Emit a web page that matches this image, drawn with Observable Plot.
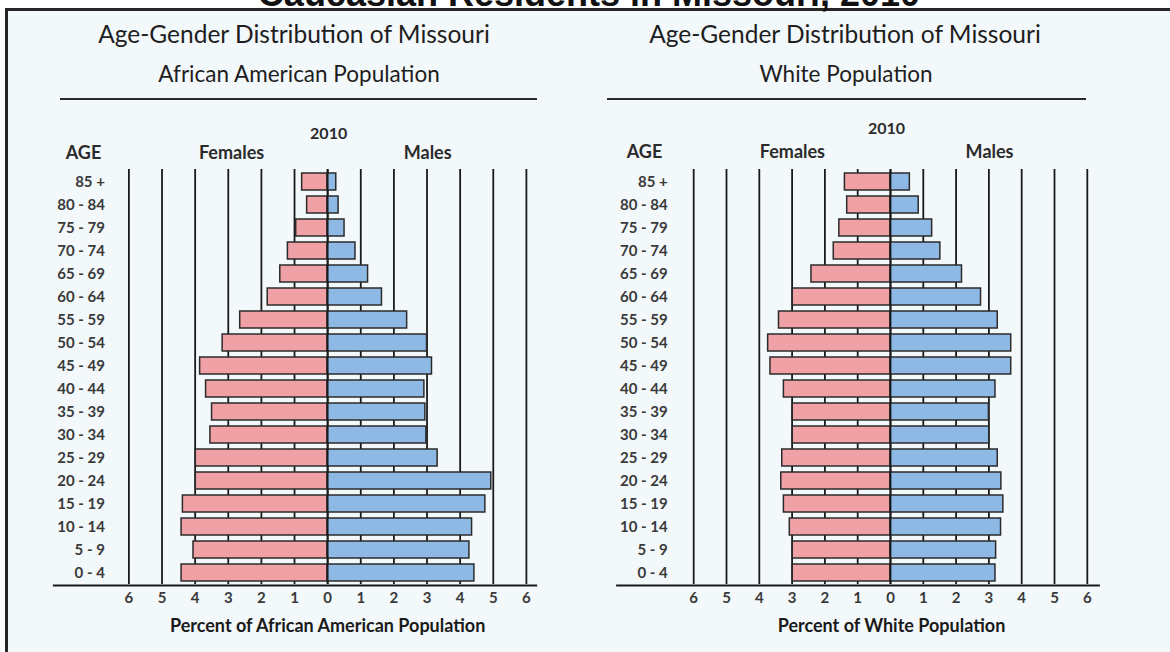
<!DOCTYPE html>
<html>
<head>
<meta charset="utf-8">
<script src="https://cdn.jsdelivr.net/npm/d3@7"></script>
<script src="https://cdn.jsdelivr.net/npm/@observablehq/plot@0.6"></script>
<style>
  html, body { margin: 0; padding: 0; background: #fff; }
  #page { position: relative; width: 1170px; height: 652px; overflow: hidden; background: #fff; }
  #box { position: absolute; left: 5px; top: 8px; width: 1200px; height: 700px;
         border-left: 3px solid #262626; border-top: 3px solid #262626; background: #f3f8fa; }
  .panel { position: absolute; top: 0; }
  .panel svg { overflow: visible; }
  .panel [aria-label="y-axis tick label"] text { font-weight: bold; }
  .panel [aria-label="x-axis tick label"] text { font-weight: bold; }
  #overlay { position: absolute; left: 0; top: 0; pointer-events: none; }
</style>
</head>
<body>
<div id="page">
  <div id="box"></div>
  <div id="left" class="panel" style="left:0px"></div>
  <div id="right" class="panel" style="left:585px"></div>
</div>
<script>
// ---- data ----
const ages = ["85 +","80 - 84","75 - 79","70 - 74","65 - 69","60 - 64","55 - 59","50 - 54","45 - 49",
              "40 - 44","35 - 39","30 - 34","25 - 29","20 - 24","15 - 19","10 - 14","5 - 9","0 - 4"];
const aaFemales = [0.77,0.62,0.95,1.20,1.43,1.81,2.64,3.17,3.85,3.67,3.49,3.54,3.98,3.98,4.37,4.41,4.05,4.41];
const aaMales   = [0.26,0.33,0.51,0.84,1.22,1.64,2.40,3.00,3.15,2.92,2.95,2.98,3.32,4.94,4.76,4.36,4.28,4.43];
const whFemales = [1.39,1.32,1.56,1.73,2.41,2.98,3.40,3.73,3.66,3.25,2.98,2.98,3.30,3.33,3.25,3.07,2.98,2.98];
const whMales   = [0.59,0.86,1.27,1.52,2.18,2.76,3.27,3.68,3.68,3.20,3.00,3.01,3.27,3.38,3.44,3.37,3.22,3.20];
const tickValues = [-6,-5,-4,-3,-2,-1,0,1,2,3,4,5,6];

const mainTitle = "Caucasian Residents in Missouri, 2010";
const panelTitle = "Age-Gender Distribution of Missouri";
const subtitles = ["African American Population", "White Population"];
const xLabels = ["Percent of African American Population", "Percent of White Population"];

const pink = "#efa1a5", blue = "#8fb9e5", ink = "#2b2b2b";

function pyramid(females, males, xLabel, geo) {
  const rows = ages.map((age, i) => ({age, f: females[i], m: males[i]}));
  return Plot.plot({
    width: 585, height: 652,
    marginLeft: geo.ml, marginRight: geo.mr, marginTop: 169, marginBottom: 68,
    style: {background: "transparent", fontFamily: "Lato, 'Open Sans', sans-serif", color: "#3a3a3a"},
    x: {domain: [-6, 6]},
    y: {domain: ages, paddingInner: 0.28, paddingOuter: 0.16},
    marks: [
      Plot.ruleX(tickValues, {stroke: "#1a1a1a", strokeWidth: 1.8}),
      Plot.barX(rows, {y: "age", x1: d => -d.f, x2: 0, fill: pink, stroke: ink, strokeWidth: 1.5}),
      Plot.barX(rows, {y: "age", x1: 0, x2: d => d.m, fill: blue, stroke: ink, strokeWidth: 1.5}),
      Plot.ruleX([0], {stroke: "#1a1a1a", strokeWidth: 1.8}),
      Plot.ruleY([ages[ages.length - 1]], {y: d => d, x1: geo.a1, x2: geo.a2, dy: 12.5, stroke: "#1a1a1a", strokeWidth: 2}),
      Plot.axisY({tickSize: 0, tickPadding: geo.tp, fontSize: 15, label: null, color: "#3a3a3a"}),
      Plot.axisX({ticks: tickValues, tickSize: 0, tickPadding: 8, fontSize: 15, label: null,
                  tickFormat: d => Math.abs(d), color: "#3a3a3a"}),
      Plot.text(["2010"], {x: () => geo.yr, frameAnchor: "top", dy: geo.yrdy, lineAnchor: "middle",
                           fontSize: 16, fontWeight: "bold", fill: ink}),
      Plot.text(["AGE"], {x: () => geo.age, frameAnchor: "top", dy: geo.hdy, lineAnchor: "middle",
                          fontSize: 18, fontWeight: "bold", fill: ink}),
      Plot.text(["Females"], {x: () => geo.fem, frameAnchor: "top", dy: geo.hdy, lineAnchor: "middle",
                              fontSize: 18, fontWeight: "bold", fill: ink}),
      Plot.text(["Males"], {x: () => geo.mal, frameAnchor: "top", dy: geo.hdy, lineAnchor: "middle",
                            fontSize: 18, fontWeight: "bold", fill: ink}),
      Plot.text([xLabel], {x: () => geo.xl, frameAnchor: "bottom", dy: 42, lineAnchor: "middle",
                           fontSize: 18, fontWeight: "bold", fill: "#1a1a1a"})
    ]
  });
}

document.getElementById("left").append(
  pyramid(aaFemales, aaMales, xLabels[0],
    {ml: 128.4, mr: 59.1, tp: 24, a1: -8.28, a2: 6.34, yr: 0.03, yrdy: -36, hdy: -16, age: -7.37, fem: -2.9, mal: 3.02, xl: 0})
);
document.getElementById("right").append(
  pyramid(whFemales, whMales, xLabels[1],
    {ml: 108.2, mr: 83.2, tp: 26, a1: -8.35, a2: 6.4, yr: -0.12, yrdy: -41, hdy: -17, age: -7.5, fem: -2.99, mal: 3.02, xl: 0.03})
);

// ---- titles overlay ----
const svg = d3.select("#page").append("svg").attr("id", "overlay")
  .attr("width", 1170).attr("height", 652);
svg.append("text").text(mainTitle)
  .attr("x", 589).attr("y", 6).attr("text-anchor", "middle")
  .attr("font-family", "'Liberation Sans', Arial, sans-serif").attr("font-weight", "bold")
  .attr("font-size", 36).attr("fill", "#111");
const centers = [{t: 294, s: 299, r1: 60, r2: 537}, {t: 845, s: 846, r1: 607, r2: 1086}];
centers.forEach((c, i) => {
  svg.append("text").text(panelTitle)
    .attr("x", c.t).attr("y", 43).attr("text-anchor", "middle")
    .attr("font-family", "Lato, sans-serif").attr("font-size", 24.5).attr("fill", "#1e1e1e");
  svg.append("text").text(subtitles[i])
    .attr("x", c.s).attr("y", 82).attr("text-anchor", "middle")
    .attr("font-family", "Lato, sans-serif").attr("font-size", 22.5).attr("fill", "#1e1e1e");
  svg.append("line").attr("x1", c.r1).attr("x2", c.r2).attr("y1", 99).attr("y2", 99)
    .attr("stroke", "#2a2a2a").attr("stroke-width", 1.8);
});
</script>
</body>
</html>
